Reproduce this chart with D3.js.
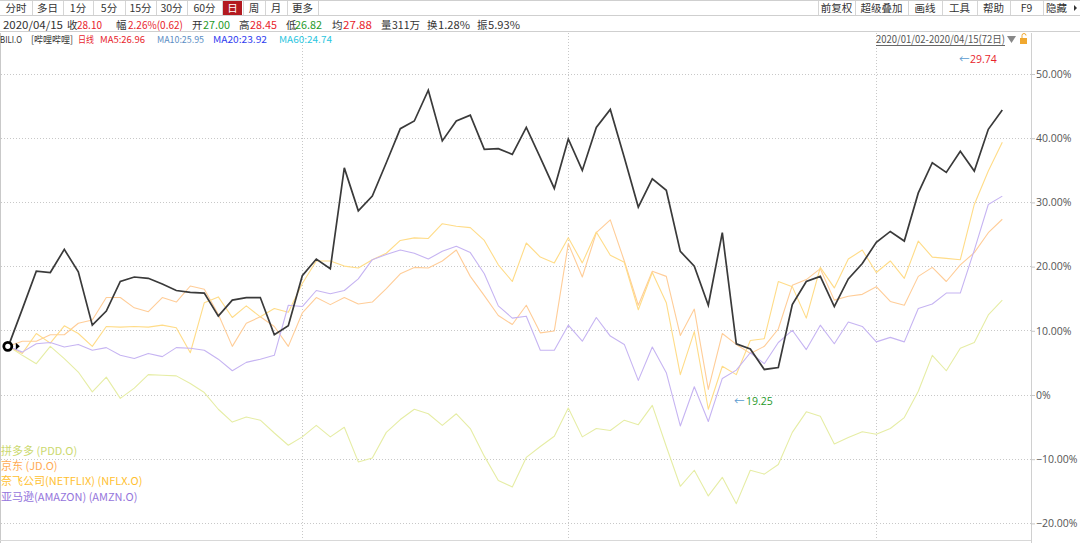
<!DOCTYPE html>
<html><head><meta charset="utf-8">
<script src="https://cdn.jsdelivr.net/npm/d3@7"></script>
<style>
html,body{margin:0;padding:0;background:#fff;}
svg text{font-family:"Noto Sans CJK SC","Noto Sans",sans-serif;}
</style></head>
<body>
<svg id="c" width="1080" height="543"></svg>
<script>
// ---------- DATA ----------
const dates = ["01/02","01/03","01/06","01/07","01/08","01/09","01/10","01/13","01/14","01/15","01/16","01/17","01/21","01/22","01/23","01/24","01/27","01/28","01/29","01/30","01/31",
"02/03","02/04","02/05","02/06","02/07","02/10","02/11","02/12","02/13","02/14","02/18","02/19","02/20","02/21","02/24","02/25","02/26","02/27","02/28",
"03/02","03/03","03/04","03/05","03/06","03/09","03/10","03/11","03/12","03/13","03/16","03/17","03/18","03/19","03/20","03/23","03/24","03/25","03/26","03/27","03/30","03/31",
"04/01","04/02","04/03","04/06","04/07","04/08","04/09","04/13","04/14","04/15"];
const monthStarts = ["02/03","03/02","04/01"];
const bili = [7.5,13.3,19.2,19.0,22.6,19.1,10.8,13.0,17.6,18.3,18.1,17.2,16.2,15.9,15.8,12.2,14.7,15.1,15.1,9.3,10.7,18.5,21.1,19.6,
35.3,28.6,30.9,36.1,41.4,42.6,47.4,39.5,42.6,43.5,38.2,38.3,37.4,41.6,36.9,32.1,39.8,34.9,41.6,44.4,36.9,29.2,33.6,31.8,22.3,
20.0,13.9,25.2,7.9,7.1,3.9,4.2,14.0,17.6,18.4,13.7,18.0,20.4,23.7,25.4,23.9,31.4,36.1,34.6,37.9,34.8,41.3,44.3];
const pdd = [7.5,6.1,4.8,7.5,5.6,3.5,0.4,2.7,-0.6,1.0,3.1,3.0,2.9,1.7,0.3,-2.3,-4.3,-3.5,-4.0,-6.0,-7.9,-6.6,-4.8,-6.6,-5.1,
-10.5,-9.9,-5.9,-3.9,-2.3,-3.0,-4.8,-3.0,-5.3,-9.6,-13.4,-14.4,-9.8,-8.1,-6.5,-2.1,-6.6,-5.3,-5.6,-4.0,-4.7,-1.7,-8.1,-14.3,
-11.8,-15.8,-12.9,-17.0,-11.8,-12.4,-10.9,-5.9,-2.7,-3.4,-7.7,-6.7,-5.8,-6.2,-5.3,-3.6,0.5,6.1,3.7,7.2,8.1,12.4,14.7];
const jd = [7.5,8.3,8.3,9.3,9.3,11.1,11.6,15.1,15.1,13.5,12.9,15.1,14.4,16.9,16.4,12.5,7.5,11.1,12.1,10.6,7.5,12.7,15.1,14.0,15.1,
14.1,14.4,16.5,18.8,19.8,19.7,20.8,22.5,18.4,15.4,12.3,10.9,13.9,9.6,9.9,23.5,18.3,25.2,27.2,20.8,13.9,19.2,18.4,9.2,
13.3,0.8,9.5,7.8,6.4,7.5,10.2,17.0,17.9,19.6,14.7,15.3,15.6,16.8,14.5,13.9,18.4,19.8,17.6,20.2,22.1,25.2,27.3];
const nflx = [7.5,6.4,9.5,8.0,10.7,9.5,7.5,10.6,10.5,10.6,10.5,10.8,10.4,6.5,14.3,15.2,12.0,13.8,12.1,13.4,12.8,17.3,20.8,20.8,20.0,
19.7,21.0,22.0,24.0,24.4,24.3,26.6,26.2,26.0,24.0,20.2,17.6,23.6,21.4,20.5,24.4,20.5,25.3,21.7,20.6,13.2,19.0,14.3,3.1,
9.8,-2.3,4.4,3.1,8.4,8.7,17.6,16.8,11.9,19.8,16.6,21.1,22.5,19.0,20.8,18.1,23.9,21.4,21.2,21.0,29.6,34.8,39.3];
const amzn = [7.5,6.6,7.9,8.1,7.4,7.8,6.9,7.3,6.1,5.6,6.4,5.9,7.3,7.2,6.9,5.5,3.7,5.0,5.5,6.1,13.9,13.7,16.2,15.7,16.2,
18.0,21.0,21.8,22.5,22.0,21.1,22.3,23.1,22.1,18.8,13.8,11.9,12.2,6.9,6.9,10.8,8.3,12.0,9.1,7.8,2.2,7.4,3.4,-4.9,
1.2,-4.2,2.5,3.8,6.5,4.8,8.1,10.0,7.0,10.8,7.9,11.3,10.6,8.2,8.9,8.2,13.4,14.1,15.8,15.8,22.5,29.6,30.9];
const yTicks = [-20,-10,0,10,20,30,40,50];
const legendLabels = ["拼多多 (PDD.O)","京东 (JD.O)","奈飞公司(NETFLIX) (NFLX.O)","亚马逊(AMAZON) (AMZN.O)"];
const periodBtns = ["分时","多日","1分","5分","15分","30分","60分","日","周","月","更多"];
const toolBtns = ["前复权","超级叠加","画线","工具","帮助","F9","隐藏"];
const infoItems = [["2020/04/15","#333"],["收","#333"],["28.10","red"],["幅","#333"],["2.26%(0.62)","red"],["开","#333"],["27.00","green"],
["高","#333"],["28.45","red"],["低","#333"],["26.82","green"],["均","#333"],["27.88","red"],["量","#333"],["311万","#333"],["换","#333"],["1.28%","#333"],["振","#333"],["5.93%","#333"]];
const maItems = [["BILI.O","#333"],["[哔哩哔哩]","#333"],["日线","red"],["MA5:26.96","red"],["MA10:25.95","ma10"],["MA20:23.92","ma20"],["MA60:24.74","ma60"]];
const maxLabel = "29.74", minLabel = "19.25";
const rangeLabel = "2020/01/02-2020/04/15(72日)";

// ---------- STYLE / LAYOUT ----------
const C = {red:"#e8232c", green:"#1f9a2a", ma10:"#5b8dc4", ma20:"#2f3cf0", ma60:"#2cc6e0", "#333":"#333"};
const seriesStyle = [
  {data:pdd,  line:"#e6eda5", text:"#cbd96e"},
  {data:jd,   line:"#ffcd98", text:"#ffab55"},
  {data:nflx, line:"#ffdc88", text:"#ffbf30"},
  {data:amzn, line:"#c6b4f2", text:"#9575dc"}
];
const svg = d3.select("#c");
svg.append("rect").attr("width",1080).attr("height",543).attr("fill","#fff");

const x = d3.scaleLinear().domain([0, dates.length-1]).range([8.3, 1002.3]);
const y = d3.scaleLinear().domain([0, 50]).range([394.5, 73.5]);
const plotTop = 33, plotBottom = 540, plotRight = 1031;

// gridlines horizontal
svg.append("g").selectAll("line").data(yTicks).join("line")
  .attr("x1",1).attr("x2",plotRight).attr("y1",d=>Math.round(y(d))+0.5).attr("y2",d=>Math.round(y(d))+0.5)
  .attr("stroke","#c8c8c8").attr("stroke-dasharray","1,2");
// vertical month lines
svg.append("g").selectAll("line").data(monthStarts).join("line")
  .attr("x1",d=>Math.round(x(dates.indexOf(d)))+0.5).attr("x2",d=>Math.round(x(dates.indexOf(d)))+0.5)
  .attr("y1",plotTop).attr("y2",plotBottom)
  .attr("stroke","#c8c8c8").attr("stroke-dasharray","1,2");

// frame lines
svg.append("line").attr("x1",0.5).attr("x2",0.5).attr("y1",plotTop).attr("y2",543).attr("stroke","#c9c9c9");
svg.append("line").attr("x1",plotRight+0.5).attr("x2",plotRight+0.5).attr("y1",plotTop).attr("y2",543).attr("stroke","#d0d0d0");
svg.append("line").attr("x1",0).attr("x2",plotRight).attr("y1",540.5).attr("y2",540.5).attr("stroke","#d8d8d8");

// right axis
const axis = d3.axisRight(y).tickValues(yTicks).tickSize(4).tickPadding(1)
  .tickFormat(d => d===0 ? "0%" : d3.format(".2f")(d)+"%");
const ag = svg.append("g").attr("transform",`translate(${plotRight},0.5)`).call(axis);
ag.select(".domain").remove();
ag.selectAll("line").attr("stroke","#c8c8c8");
ag.selectAll("text").attr("fill","#555").style("font-size","10.5px").style("font-family","'Open Sans','Noto Sans',sans-serif");

// series lines
const line = d3.line().x((d,i)=>x(i)).y(d=>y(d));
seriesStyle.forEach(s=>{
  svg.append("path").datum(s.data).attr("d",line).attr("fill","none")
    .attr("stroke",s.line).attr("stroke-width",1.1).attr("stroke-linejoin","round");
});
svg.append("path").datum(bili).attr("d",line).attr("fill","none")
  .attr("stroke","#3a3a3a").attr("stroke-width",1.7).attr("stroke-linejoin","miter");

// start marker
svg.append("circle").attr("cx",x(0)-0.5).attr("cy",y(bili[0])).attr("r",4)
  .attr("fill","#fff").attr("stroke","#000").attr("stroke-width",2.8);
svg.append("path").attr("d",`M${x(0)+7.5},${y(bili[0])-3.5} L${x(0)+11.5},${y(bili[0])} L${x(0)+7.5},${y(bili[0])+3.5}Z`).attr("fill","#000");

// max/min labels
svg.append("text").attr("x",959).attr("y",63).style("font-size","10.5px").attr("fill","#5a9bd0").text("←");
svg.append("text").attr("x",970).attr("y",63).style("font-size","10.5px").attr("fill",C.red).style("font-family","'Open Sans',sans-serif").text(maxLabel);
svg.append("text").attr("x",734).attr("y",405).style("font-size","10.5px").attr("fill","#5a9bd0").text("←");
svg.append("text").attr("x",746).attr("y",405).style("font-size","10.5px").attr("fill",C.green).style("font-family","'Open Sans',sans-serif").text(minLabel);

// legend
svg.append("g").selectAll("text").data(legendLabels).join("text")
  .attr("x",1).attr("y",(d,i)=>455+i*15.2).style("font-size","11px")
  .attr("fill",(d,i)=>seriesStyle[i].text).text(d=>d);

// ---------- HEADER ----------
svg.append("rect").attr("x",0).attr("y",0).attr("width",1080).attr("height",32).attr("fill","#fff");
[0.5,15.5,31.5].forEach(yy=>svg.append("line").attr("x1",0).attr("x2",1080).attr("y1",yy).attr("y2",yy).attr("stroke","#cfcfcf"));
const pEdges = [0,32,63,93,125,156,187,222,243,265,287,318];
periodBtns.forEach((b,i)=>{
  const x0=pEdges[i], x1=pEdges[i+1];
  if(b==="日") svg.append("rect").attr("x",x0+1).attr("y",1).attr("width",x1-x0-2).attr("height",14).attr("fill","#b3191f");
  svg.append("line").attr("x1",x1+0.5).attr("x2",x1+0.5).attr("y1",1).attr("y2",15).attr("stroke","#d5d5d5");
  svg.append("text").attr("x",(x0+x1)/2).attr("y",12).attr("text-anchor","middle").style("font-size","10.5px")
    .attr("fill",b==="日"?"#fff":"#333").text(b);
});
const tEdges = [818,855,908,942,977,1010,1043,1080];
toolBtns.forEach((b,i)=>{
  const x0=tEdges[i], x1=tEdges[i+1];
  svg.append("line").attr("x1",x0+0.5).attr("x2",x0+0.5).attr("y1",1).attr("y2",15).attr("stroke","#d5d5d5");
  svg.append("text").attr("x",b==="隐藏"?x0+3:(x0+x1)/2).attr("y",12).attr("text-anchor",b==="隐藏"?"start":"middle").style("font-size","10.5px").attr("fill","#333").text(b);
});
svg.append("path").attr("d","M1074,5 L1077,8 L1074,11Z").attr("fill","#333");

function fitText(items, xs, ws, yb, fs){
  items.forEach((it,i)=>{
    const t = svg.append("text").attr("x",xs[i]).attr("y",yb).style("font-size",fs+"px")
      .attr("fill",C[it[1]]||it[1]).text(it[0]);
    if(ws[i]) t.attr("textLength",ws[i]).attr("lengthAdjust","spacingAndGlyphs");
  });
}
const infoX = [3,67,77,116,128,192,203,239,250,286,295,332,343,381,392,427,438,477,488];
const infoW = [60,0,25,0,55,0,27,0,27,0,27,0,29,0,28,0,32,0,32];
fitText(infoItems, infoX, infoW, 28.5, 10.5);
const maX = [0,31,78,100,157,213,279];
const maW = [22,42,16,45,47,54,53];
fitText(maItems, maX, maW, 43, 9.5);

svg.append("text").attr("x",876).attr("y",43).style("font-size","10.5px").attr("fill","#555")
  .attr("textLength",129).attr("lengthAdjust","spacingAndGlyphs").text(rangeLabel);
svg.append("line").attr("x1",876).attr("x2",1005).attr("y1",45.5).attr("y2",45.5).attr("stroke","#666");
svg.append("path").attr("d","M1007,36 L1016,36 L1011.5,43Z").attr("fill","#888");
svg.append("rect").attr("x",1020).attr("y",38).attr("width",7).attr("height",6).attr("fill","#f0a830");
svg.append("path").attr("d","M1022,38 V35.5 A2,2 0 0 1 1026,35.5").attr("fill","none").attr("stroke","#f0a830").attr("stroke-width",1);
</script>
</body></html>
